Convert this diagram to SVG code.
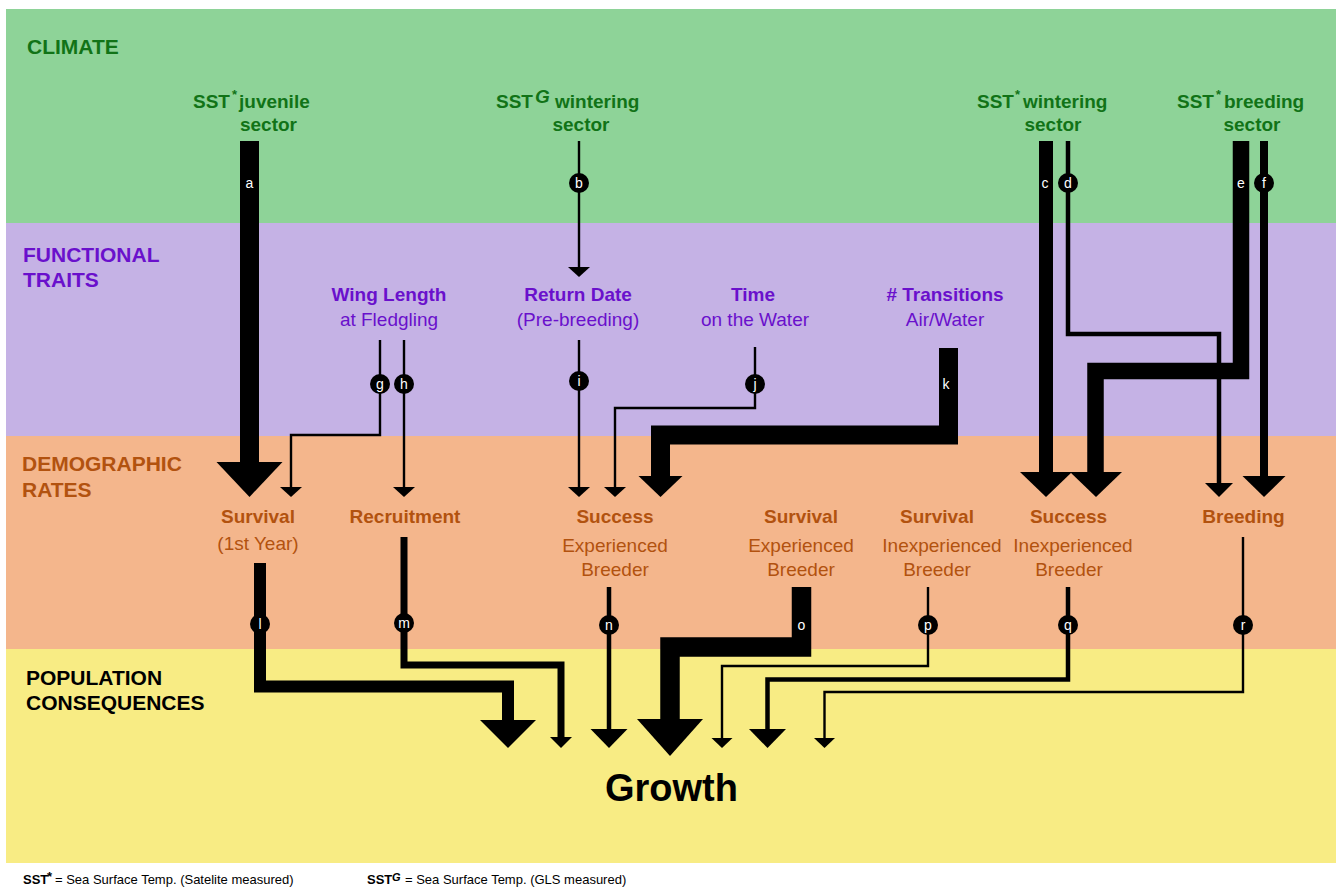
<svg xmlns="http://www.w3.org/2000/svg" width="1336" height="888" viewBox="0 0 1336 888">
<defs>
<style>
text{font-family:"Liberation Sans",Arial,Helvetica,sans-serif}
.band-green{fill:#8ed398}
.band-purple{fill:#c5b2e5}
.band-orange{fill:#f4b68c}
.band-yellow{fill:#f8ec84}
.title{font-size:21px;font-weight:bold}
.g{fill:#117317}
.p{fill:#6a10cc}
.o{fill:#b2520f}
.k{fill:#000}
.lb{font-size:19px;font-weight:bold}
.ln{font-size:19px}
.mid{text-anchor:middle}
.ln-path{fill:none;stroke:#000;stroke-linejoin:miter;stroke-linecap:butt}
.head{fill:#000}
.badge{fill:#000}
.bl{fill:#fff;font-size:14px;text-anchor:middle}
.foot{font-size:13px;fill:#000}
</style>
</defs>

<rect width="1336" height="888" fill="#ffffff"/>
<rect class="band-green" x="6" y="9" width="1330" height="214"/>
<rect class="band-purple" x="6" y="223" width="1330" height="213"/>
<rect class="band-orange" x="6" y="436" width="1330" height="213"/>
<rect class="band-yellow" x="6" y="649" width="1330" height="214"/>

<g id="section-titles">
<text class="title g" x="27" y="54">CLIMATE</text>
<text class="title p" x="23" y="262">FUNCTIONAL</text>
<text class="title p" x="23" y="287">TRAITS</text>
<text class="title o" x="22" y="471">DEMOGRAPHIC</text>
<text class="title o" x="22" y="497">RATES</text>
<text class="title k" x="26" y="685">POPULATION</text>
<text class="title k" x="26" y="710">CONSEQUENCES</text>
</g>

<g id="connectors">
<path class="ln-path" d="M249.5 141 V463" stroke-width="19"/>
<polygon class="head" points="216.5,462 282.5,462 249.5,497"/>
<path class="ln-path" d="M579 141 V268" stroke-width="2.4"/>
<polygon class="head" points="568,267 590,267 579,277"/>
<path class="ln-path" d="M1046 141 V473" stroke-width="14"/>
<polygon class="head" points="1020,472 1072,472 1046,497"/>
<path class="ln-path" d="M1241 141 V371 H1095.5 V473" stroke-width="16.5"/>
<polygon class="head" points="1070,472 1122,472 1096,497"/>
<path class="ln-path" d="M1068 141 V334 H1219 V484" stroke-width="4.5"/>
<polygon class="head" points="1205,483 1233,483 1219,497"/>
<path class="ln-path" d="M1264 141 V477" stroke-width="8"/>
<polygon class="head" points="1242.5,476 1285.5,476 1264,497"/>
<path class="ln-path" d="M380 340 V435 H291 V488" stroke-width="2.4"/>
<polygon class="head" points="280,487 302,487 291,497"/>
<path class="ln-path" d="M404 340 V488" stroke-width="2.4"/>
<polygon class="head" points="393,487 415,487 404,497"/>
<path class="ln-path" d="M579 340 V488" stroke-width="2.4"/>
<polygon class="head" points="568,487 590,487 579,497"/>
<path class="ln-path" d="M755 347 V408 H615 V488" stroke-width="2.4"/>
<polygon class="head" points="604,487 626,487 615,497"/>
<path class="ln-path" d="M948.5 348 V435 H660.5 V477" stroke-width="19"/>
<polygon class="head" points="638.5,476 682.5,476 660.5,497"/>
<path class="ln-path" d="M260 563 V686.5 H508 V721" stroke-width="12"/>
<polygon class="head" points="480,720 536,720 508,748"/>
<path class="ln-path" d="M404 537 V665 H561 V738" stroke-width="7"/>
<polygon class="head" points="550,737 572,737 561,748"/>
<path class="ln-path" d="M609 587 V730" stroke-width="4.5"/>
<polygon class="head" points="590.5,729 627.5,729 609,748"/>
<path class="ln-path" d="M801.5 587 V647 H670 V720" stroke-width="19.5"/>
<polygon class="head" points="637,719 703,719 670,756"/>
<path class="ln-path" d="M928 587 V666 H722 V739" stroke-width="2.4"/>
<polygon class="head" points="711.5,738 732.5,738 722,748"/>
<path class="ln-path" d="M1068 587 V679.5 H767.5 V730" stroke-width="4.5"/>
<polygon class="head" points="749,729 786,729 767.5,748"/>
<path class="ln-path" d="M1243 537 V692 H824.5 V739" stroke-width="2.4"/>
<polygon class="head" points="814,738 835,738 824.5,748"/>

<text class="bl" x="249.5" y="188">a</text>
<circle class="badge" cx="579" cy="183" r="10"/><text class="bl" x="579" y="188">b</text>
<text class="bl" x="1045" y="188">c</text>
<circle class="badge" cx="1068" cy="183" r="10"/><text class="bl" x="1068" y="188">d</text>
<text class="bl" x="1241" y="188">e</text>
<circle class="badge" cx="1264" cy="183" r="10"/><text class="bl" x="1264" y="188">f</text>
<circle class="badge" cx="380" cy="384" r="10"/><text class="bl" x="380" y="389">g</text>
<circle class="badge" cx="404" cy="384" r="10"/><text class="bl" x="404" y="389">h</text>
<circle class="badge" cx="579" cy="381" r="10"/><text class="bl" x="579" y="386">i</text>
<circle class="badge" cx="755" cy="384" r="10"/><text class="bl" x="755" y="389">j</text>
<text class="bl" x="946" y="389">k</text>
<circle class="badge" cx="260" cy="624" r="10"/><text class="bl" x="260" y="629">l</text>
<circle class="badge" cx="404" cy="623" r="10"/><text class="bl" x="404" y="628">m</text>
<circle class="badge" cx="609" cy="625" r="10"/><text class="bl" x="609" y="630">n</text>
<text class="bl" x="801.5" y="630">o</text>
<circle class="badge" cx="928" cy="625" r="10"/><text class="bl" x="928" y="630">p</text>
<circle class="badge" cx="1068" cy="625" r="10"/><text class="bl" x="1068" y="630">q</text>
<circle class="badge" cx="1243" cy="625" r="10"/><text class="bl" x="1243" y="630">r</text>
</g>

<g id="node-sst-juvenile">
<text class="lb g" y="108"><tspan x="193">SST</tspan><tspan x="232" dy="-9" font-size="13">*</tspan><tspan x="239" dy="9">juvenile</tspan></text>
<text class="lb g mid" x="268.5" y="131">sector</text>
</g>
<g id="node-sstg-wintering">
<text class="lb g" y="108"><tspan x="496">SST</tspan><tspan x="535" dy="-5" font-style="italic" font-size="19">G</tspan><tspan x="555" dy="5">wintering</tspan></text>
<text class="lb g mid" x="581" y="131">sector</text>
</g>
<g id="node-sst-wintering">
<text class="lb g" y="108"><tspan x="977">SST</tspan><tspan x="1015" dy="-9" font-size="13">*</tspan><tspan x="1023" dy="9">wintering</tspan></text>
<text class="lb g mid" x="1053" y="131">sector</text>
</g>
<g id="node-sst-breeding">
<text class="lb g" y="108"><tspan x="1177">SST</tspan><tspan x="1216" dy="-9" font-size="13">*</tspan><tspan x="1224" dy="9">breeding</tspan></text>
<text class="lb g mid" x="1252" y="131">sector</text>
</g>

<g id="node-wing-length">
<text class="lb p mid" x="389" y="301">Wing Length</text>
<text class="ln p mid" x="389" y="326">at Fledgling</text>
</g>
<g id="node-return-date">
<text class="lb p mid" x="578" y="301">Return Date</text>
<text class="ln p mid" x="578" y="326">(Pre-breeding)</text>
</g>
<g id="node-time-water">
<text class="lb p mid" x="753" y="301">Time</text>
<text class="ln p mid" x="755" y="326">on the Water</text>
</g>
<g id="node-transitions">
<text class="lb p mid" x="945" y="301"># Transitions</text>
<text class="ln p mid" x="945" y="326">Air/Water</text>
</g>

<g id="node-survival-first-year">
<text class="lb o mid" x="258" y="523">Survival</text>
<text class="ln o mid" x="258" y="550">(1st Year)</text>
</g>
<g id="node-recruitment">
<text class="lb o mid" x="405" y="523">Recruitment</text>
</g>
<g id="node-success-experienced">
<text class="lb o mid" x="615" y="523">Success</text>
<text class="ln o mid" x="615" y="552">Experienced</text>
<text class="ln o mid" x="615" y="576">Breeder</text>
</g>
<g id="node-survival-experienced">
<text class="lb o mid" x="801" y="523">Survival</text>
<text class="ln o mid" x="801" y="552">Experienced</text>
<text class="ln o mid" x="801" y="576">Breeder</text>
</g>
<g id="node-survival-inexperienced">
<text class="lb o mid" x="937" y="523">Survival</text>
<text class="ln o mid" x="942" y="552">Inexperienced</text>
<text class="ln o mid" x="937" y="576">Breeder</text>
</g>
<g id="node-success-inexperienced">
<text class="lb o mid" x="1068.5" y="523">Success</text>
<text class="ln o mid" x="1073" y="552">Inexperienced</text>
<text class="ln o mid" x="1069" y="576">Breeder</text>
</g>
<g id="node-breeding">
<text class="lb o mid" x="1243.5" y="523">Breeding</text>
</g>

<g id="node-growth">
<text class="k mid" x="671.5" y="801" font-size="38" font-weight="bold">Growth</text>
</g>

<g id="footer">
<text class="foot" y="884"><tspan x="23" font-weight="bold">SST</tspan><tspan x="47" dy="-3" font-weight="bold" font-size="13">*</tspan><tspan x="55" dy="3">= Sea Surface Temp. (Satelite measured)</tspan></text>
<text class="foot" y="884"><tspan x="367" font-weight="bold">SST</tspan><tspan x="392" dy="-3" font-weight="bold" font-style="italic" font-size="11">G</tspan><tspan x="405" dy="3">= Sea Surface Temp. (GLS measured)</tspan></text>
</g>
</svg>
